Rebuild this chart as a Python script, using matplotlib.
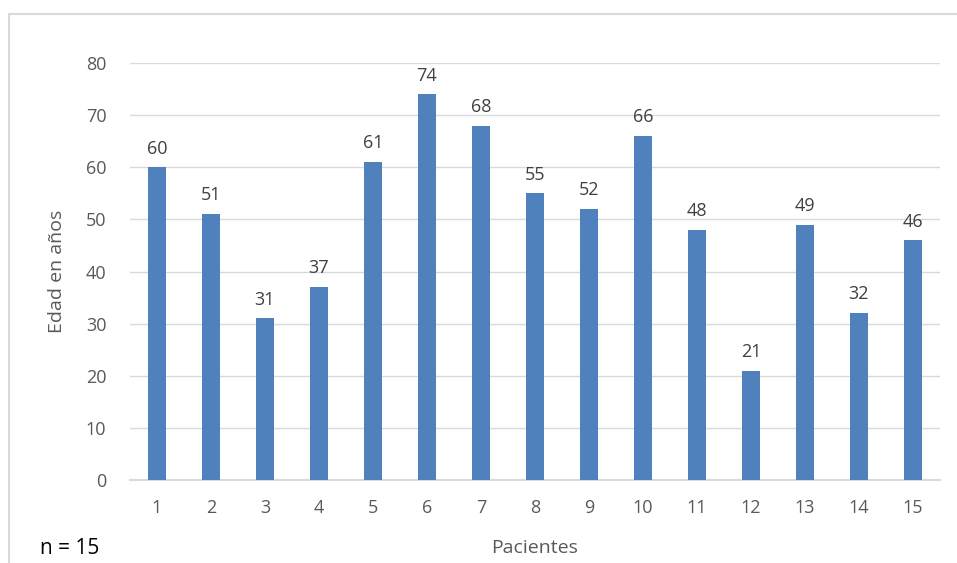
import matplotlib.pyplot as plt
from matplotlib.patches import Rectangle

pacientes = [str(i) for i in range(1, 16)]
edades = [60, 51, 31, 37, 61, 74, 68, 55, 52, 66, 48, 21, 49, 32, 46]
y_ticks = [0, 10, 20, 30, 40, 50, 60, 70, 80]

plt.rcParams['font.family'] = ['Open Sans', 'DejaVu Sans']
gris = '#595959'

fig = plt.figure(figsize=(9.57, 5.63), dpi=100)
ax = fig.add_axes([0.1358, 0.1474, 0.8464, 0.7407])

x = list(range(len(pacientes)))
ax.bar(x, edades, width=0.32, color='#4F81BD', zorder=3)
for xi, v in zip(x, edades):
    ax.annotate(str(v), (xi, v), xytext=(0, 7), textcoords='offset points',
                ha='center', va='bottom', fontsize=13, color='#404040')

ax.set_xlim(-0.5, len(pacientes) - 0.5)
ax.set_ylim(0, 80)
ax.set_xticks(x)
ax.set_xticklabels(pacientes)
ax.set_yticks(y_ticks)
ax.tick_params(length=0, labelsize=13, colors=gris)
ax.tick_params(axis='x', pad=14)
ax.tick_params(axis='y', pad=17)
ax.grid(axis='y', color='#d9d9d9', linewidth=1, zorder=0)
for s in ['top', 'right', 'left']:
    ax.spines[s].set_visible(False)
ax.spines['bottom'].set_color('#d9d9d9')
ax.spines['bottom'].set_linewidth(1.5)

ax.set_ylabel('Edad en años', fontsize=14, color=gris, labelpad=14)
fig.text(535 / 957, 1 - 548 / 563, 'Pacientes', fontsize=14, color=gris,
         ha='center', va='center')
fig.text(40 / 957, 1 - 548 / 563, 'n = 15', fontsize=15, color='black',
         ha='left', va='center')

fig.patches.append(Rectangle((9 / 957, -0.1), 1.1, 1 - 14 / 563 + 0.1,
                             transform=fig.transFigure, fill=False,
                             edgecolor='#d9d9d9', linewidth=1.5))

plt.savefig('out.png', dpi=100)
plt.close()
